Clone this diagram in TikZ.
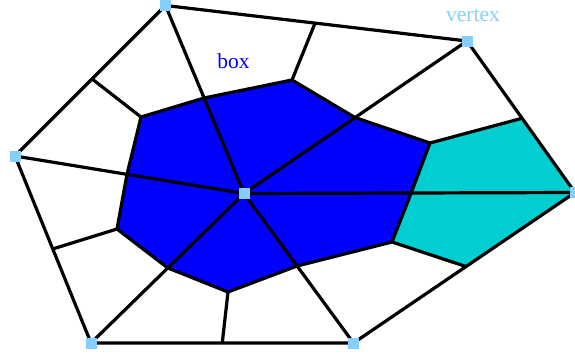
\documentclass[tikz,border=0pt]{standalone}
\usepackage{fontspec}
\setmainfont{Liberation Serif}
\usetikzlibrary{calc}
\definecolor{vtx}{RGB}{135,206,250}
\definecolor{boxblue}{RGB}{0,0,255}
\definecolor{teal2}{RGB}{0,206,209}
\begin{document}
\begin{tikzpicture}[x=1pt,y=-1pt,
  edge/.style={line width=3.2pt,line join=round,black},
  vsq/.style={fill=vtx,draw=none,minimum size=11pt,inner sep=0pt,rectangle},
  lbl/.style={font=\fontsize{21.5}{24}\selectfont,inner sep=0pt,anchor=base}]
\useasboundingbox (0,0) rectangle (575,356);
% vertices
\coordinate (v1) at (165.5,5.5);
\coordinate (v2) at (467,41);
\coordinate (v3) at (575,192.5);
\coordinate (v4) at (353.5,343);
\coordinate (v5) at (91,343);
\coordinate (v6) at (15,156);
\coordinate (c) at (244,193.5);
% inner points
\coordinate (p1) at (141,117);
\coordinate (p2) at ($(c)!0.508!(v1)$);
\coordinate (p3) at (292,80);
\coordinate (p4) at ($(c)!0.498!(v2)$);
\coordinate (p5) at (430,143);
\coordinate (p6) at ($(c)!0.505!(v3)$);
\coordinate (p7) at (392,242);
\coordinate (p8) at ($(c)!0.485!(v4)$);
\coordinate (p9) at (228,292);
\coordinate (p10) at ($(c)!0.498!(v5)$);
\coordinate (p11) at (117,229);
\coordinate (p12) at ($(c)!0.511!(v6)$);
% points on outer edges
\coordinate (q1) at ($(v2)!0.51!(v3)$);
\coordinate (q2) at ($(v3)!0.492!(v4)$);
\coordinate (m12) at ($(v1)!0.496!(v2)$);
\coordinate (m61) at ($(v6)!0.512!(v1)$);
\coordinate (m56) at ($(v5)!0.503!(v6)$);
\coordinate (m45) at ($(v5)!0.5!(v4)$);
% fills
\fill[boxblue] (p1) -- (p2) -- (p3) -- (p4) -- (p5) -- (p6) -- (p7) -- (p8) -- (p9) -- (p10) -- (p11) -- (p12) -- cycle;
\fill[teal2] (p5) -- (q1) -- (v3) -- (q2) -- (p7) -- (p6) -- cycle;
% edges
\draw[edge] (v1) -- (v2) -- (v3) -- (v4) -- (v5) -- (v6) -- cycle;
\draw[edge] (p1) -- (p2) -- (p3) -- (p4) -- (p5) -- (p6) -- (p7) -- (p8) -- (p9) -- (p10) -- (p11) -- (p12) -- cycle;
\foreach \v in {v1,v2,v3,v4,v5,v6} \draw[edge] (c) -- (\v);
\draw[edge] (p5) -- (q1);
\draw[edge] (p7) -- (q2);
\draw[edge] (m12) -- (p3);
\draw[edge] (m61) -- (p1);
\draw[edge] (m56) -- (p11);
\draw[edge] (m45) -- (p9);
% vertex squares
\node[vsq] (s1) at (v1) {};
\node[vsq] (s2) at (v2) {};
\node[vsq] (s3) at (v3) {};
\node[vsq] (s4) at (v4) {};
\node[vsq] (s5) at (v5) {};
\node[vsq] (s6) at (v6) {};
\node[vsq] (sc) at (c) {};
% labels
\node[lbl,text=boxblue] (boxlbl) at (233.5,68) {box};
\node[lbl,text=vtx] (vtxlbl) at (473,21.5) {vertex};
\end{tikzpicture}
\end{document}
